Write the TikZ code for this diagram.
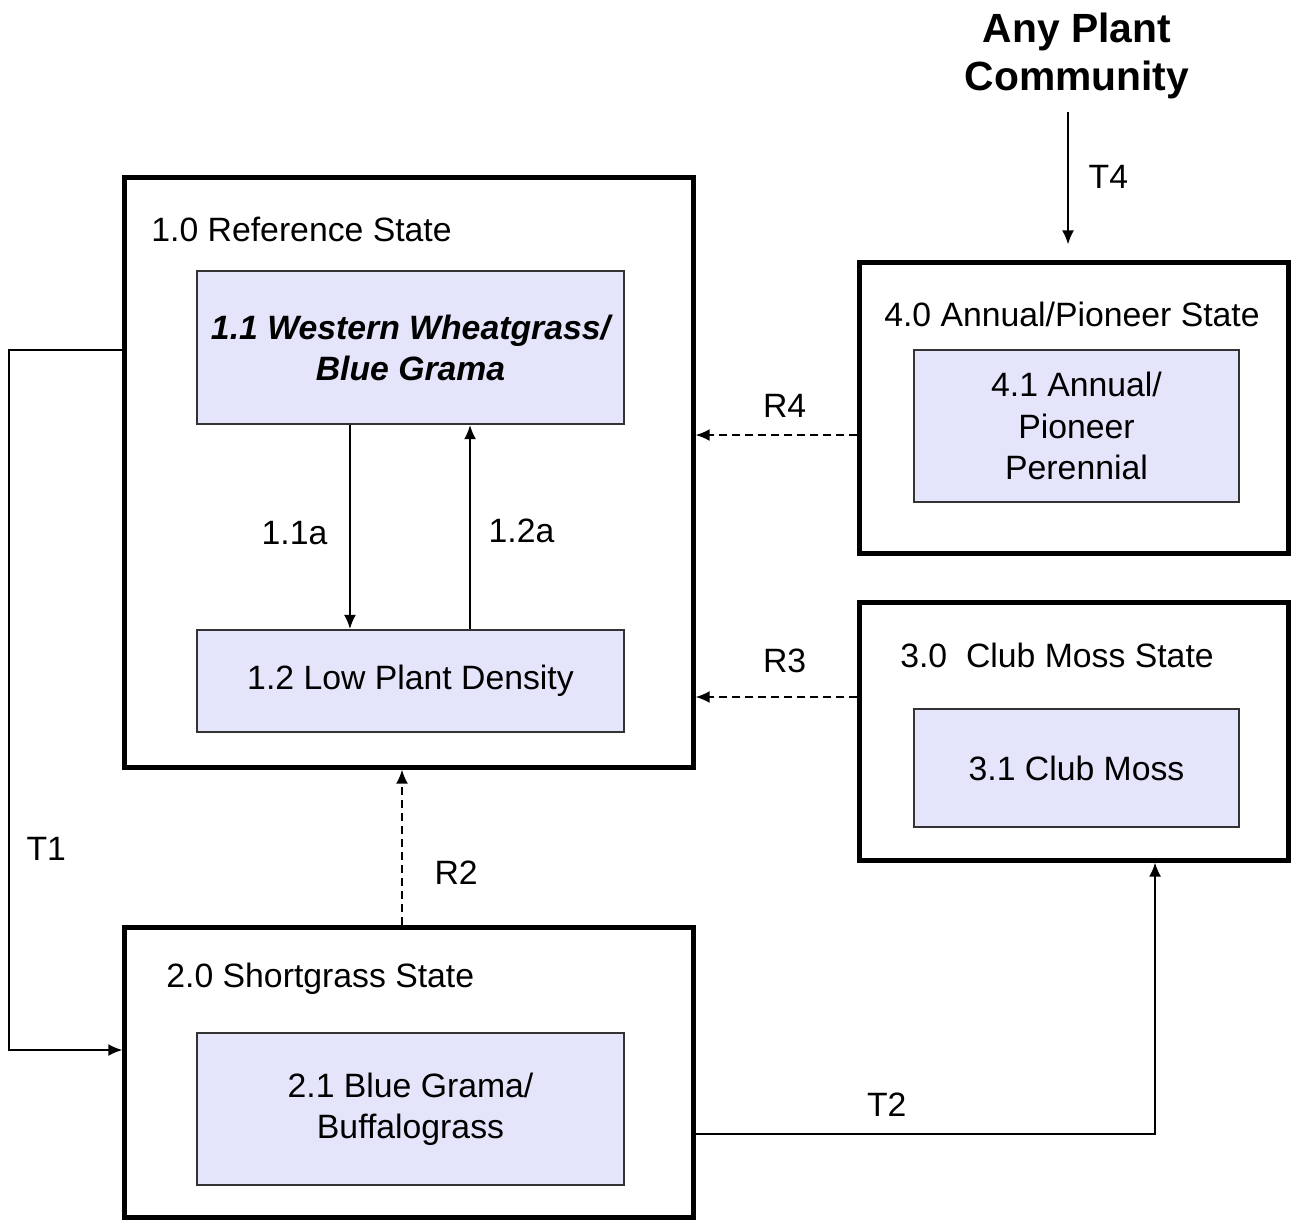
\documentclass[tikz,border=0pt]{standalone}
\usepackage{fontspec}
\setmainfont{Liberation Sans}
\usetikzlibrary{arrows.meta,positioning}
\definecolor{phasefill}{RGB}{228,228,250}

\begin{document}
\begin{tikzpicture}[x=0.01cm, y=-0.01cm,
    font=\fontsize{9.6}{11.7}\selectfont,
    state/.style={draw, line width=1.4pt, inner sep=0pt},
    phase/.style={draw=black!80, line width=0.6pt, fill=phasefill, inner sep=0pt, align=center},
    trans/.style={-{Latex[length=4pt,width=3.4pt]}, line width=0.5pt},
    rest/.style={trans, dash pattern=on 2.3pt off 1.4pt}]
    \useasboundingbox (0,0) rectangle (1292,1220);

    % states
    \node[state, minimum width=5.68cm, minimum height=5.89cm] (s1) at (409,472.5) {};
    \node[state, minimum width=5.68cm, minimum height=2.89cm] (s2) at (409,1072.5) {};
    \node[state, minimum width=4.28cm, minimum height=2.57cm] (s3) at (1074,731.5) {};
    \node[state, minimum width=4.28cm, minimum height=2.90cm] (s4) at (1074,408) {};

    \node[anchor=west] (s1t) at (139,229) {1.0 Reference State};
    \node[anchor=west] (s2t) at (154,979) {2.0 Shortgrass State};
    \node (s3t) at (1057,655) {3.0\ \ Club Moss State};
    \node (s4t) at (1072,314) {4.0 Annual/Pioneer State};

    % community phases
    \node[phase, minimum width=4.27cm, minimum height=1.53cm, font=\fontsize{9.6}{11.7}\selectfont\bfseries\itshape] (p11) at (410.5,347.5) {1.1 Western Wheatgrass/\\Blue Grama};
    \node[phase, minimum width=4.27cm, minimum height=1.02cm] (p12) at (410.5,681) {1.2 Low Plant Density};
    \node[phase, minimum width=4.27cm, minimum height=1.52cm] (p21) at (410.5,1109) {2.1 Blue Grama/\\Buffalograss};
    \node[phase, minimum width=3.25cm, minimum height=1.18cm] (p31) at (1076.5,768) {3.1 Club Moss};
    \node[phase, minimum width=3.25cm, minimum height=1.52cm] (p41) at (1076.5,426) {4.1 Annual/\\Pioneer\\Perennial};

    \node[font=\fontsize{11.6}{13.7}\selectfont\bfseries, align=center] (any) at (1077,56) {Any Plant\\Community};

    % pathways
    \draw[trans] ([xshift=-0.605cm]p11.south) -- node[pos=0.53, left=0.1cm] {1.1a} ([xshift=-0.605cm]p12.north);
    \draw[trans] ([xshift=0.595cm]p12.north) -- node[pos=0.48, right=0.06cm] {1.2a} ([xshift=0.595cm]p11.south);

    % transitions
    \coordinate (t1) at (9,0);
    \coordinate (t1c) at ([yshift=0.225cm]s2.west);
    \coordinate (t4) at (1068,112);
    \draw[trans] ([yshift=1.225cm]s1.west) coordinate (t1a) -- (t1a -| t1)
        -- node[pos=0.713, right=0.05cm] {T1} (t1 |- t1c) -- (t1c);
    \draw[trans] ([yshift=-0.615cm]s2.east) -| node[pos=0.208, above=0.05cm] {T2} ([xshift=0.81cm]s3.south);
    \draw[trans, shorten >=0.16cm] (t4) -- node[pos=0.44, right=0.08cm] {T4} (t4 |- s4.north);

    % restoration
    \draw[rest] ([xshift=-0.07cm]s2.north) coordinate (r2) -- node[pos=0.34, right=0.2cm] {R2} (r2 |- s1.south);
    \draw[rest] ([yshift=0.345cm]s3.west) coordinate (r3) -- node[pos=0.45, above=0.12cm] {R3} (r3 -| s1.east);
    \draw[rest] ([yshift=-0.27cm]s4.west) coordinate (r4) -- node[pos=0.45, above=0.05cm] {R4} (r4 -| s1.east);
\end{tikzpicture}
\end{document}
